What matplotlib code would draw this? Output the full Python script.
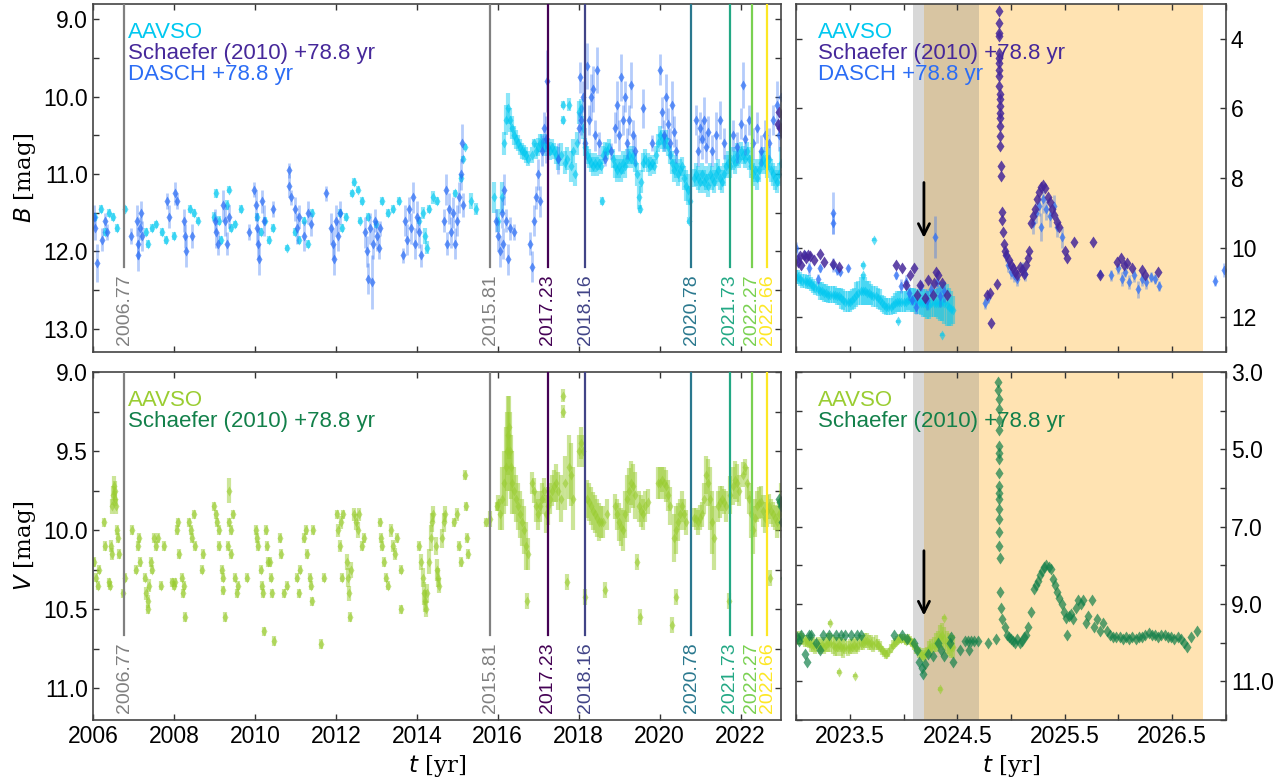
import numpy as np
import matplotlib
matplotlib.use("Agg")
import matplotlib.pyplot as plt
import matplotlib.transforms as mtransforms
from matplotlib.ticker import MultipleLocator, FormatStrFormatter, FixedLocator

plt.rcParams['font.family'] = ['Liberation Sans', 'DejaVu Sans']
plt.rcParams['mathtext.fontset'] = 'dejavusans'

# ---- B band: AAVSO (t, mag, spread) ----
aavso_b = [
    (2006.05, 11.55, .05), (2006.2, 11.45, .05), (2006.3, 11.75, .05), (2006.4, 11.5, .05), (2006.5, 11.55, .05),
    (2006.6, 11.7, .05), (2006.78, 11.45, .04), (2007.3, 11.75, .05), (2007.35, 11.9, .05), (2007.45, 11.7, .05),
    (2007.55, 11.65, .05), (2007.7, 11.75, .05), (2007.8, 11.85, .05), (2008.0, 11.8, .05), (2008.4, 11.45, .05),
    (2008.5, 11.5, .05), (2008.6, 11.6, .05), (2009.0, 11.55, .06), (2009.05, 11.25, .06), (2009.1, 11.6, .06),
    (2009.15, 11.85, .05), (2009.3, 11.4, .06), (2009.35, 11.2, .05), (2009.4, 11.7, .05), (2009.5, 11.65, .05),
    (2009.65, 11.45, .05), (2010.05, 11.55, .05), (2010.15, 11.75, .05), (2010.25, 11.6, .05), (2010.35, 11.85, .05),
    (2010.45, 11.7, .05), (2010.8, 11.95, .04), (2011.0, 11.75, .05), (2011.1, 11.85, .05), (2011.2, 11.6, .05),
    (2011.3, 11.9, .05), (2011.4, 11.5, .05), (2012.1, 11.5, .05), (2012.15, 11.7, .05), (2012.25, 11.55, .05),
    (2012.4, 11.25, .05), (2012.45, 11.1, .05), (2012.55, 11.2, .05), (2012.6, 11.6, .05), (2012.65, 11.35, .05),
    (2012.8, 11.55, .05), (2013.0, 11.65, .05), (2013.15, 11.35, .05), (2013.3, 11.5, .05), (2013.4, 11.45, .05),
    (2013.55, 11.35, .05), (2014.05, 11.6, .05), (2014.15, 11.5, .08), (2014.2, 11.8, .1), (2014.25, 11.95, .08),
    (2014.3, 11.45, .05), (2014.4, 11.3, .08), (2014.5, 11.35, .05), (2014.95, 11.25, .05), (2015.1, 11.05, .05),
    (2015.15, 10.8, .04), (2015.2, 10.65, .04), (2015.35, 11.35, .1), (2015.45, 11.45, .08), (2015.9, 11.3, .2),
    (2016.0, 11.6, .15), (2016.1, 11.3, .2), (2016.15, 10.6, .15), (2016.2, 10.3, .2), (2016.25, 10.15, .2),
    (2016.3, 10.3, .15), (2016.35, 10.4, .15), (2016.4, 10.5, .12), (2016.45, 10.55, .12), (2016.5, 10.6, .1),
    (2016.55, 10.65, .1), (2016.6, 10.7, .1), (2016.65, 10.72, .1), (2016.7, 10.75, .1), (2016.75, 10.8, .1),
    (2016.85, 10.75, .1), (2016.9, 10.6, .05), (2016.95, 10.7, .1), (2017.0, 10.65, .12), (2017.05, 10.6, .12),
    (2017.1, 10.6, .12), (2017.15, 10.65, .12), (2017.2, 10.6, .12), (2017.25, 10.65, .12), (2017.3, 10.7, .12),
    (2017.35, 10.65, .1), (2017.4, 10.7, .1), (2017.45, 10.75, .12), (2017.5, 10.8, .15), (2017.55, 10.75, .15),
    (2017.6, 10.1, .05), (2017.62, 10.3, .05), (2017.65, 10.85, .15), (2017.7, 10.8, .15), (2017.75, 10.1, .08),
    (2017.8, 10.9, .2), (2017.85, 10.7, .15), (2017.9, 11.0, .15), (2017.95, 10.6, .15), (2018.0, 10.2, .15),
    (2018.05, 10.15, .12), (2018.1, 10.4, .15), (2018.15, 10.65, .12), (2018.2, 10.75, .12), (2018.25, 10.8, .12),
    (2018.3, 10.85, .12), (2018.35, 10.9, .12), (2018.4, 10.85, .12), (2018.45, 10.9, .12), (2018.5, 10.85, .1),
    (2018.55, 10.9, .1), (2018.57, 11.35, .05), (2018.6, 10.75, .12), (2018.65, 10.7, .12), (2018.7, 10.7, .1),
    (2018.75, 10.65, .1), (2018.85, 10.8, .12), (2018.9, 10.9, .15), (2018.95, 10.95, .15), (2019.0, 10.9, .15),
    (2019.05, 10.95, .15), (2019.1, 10.85, .15), (2019.15, 10.9, .15), (2019.2, 10.8, .12), (2019.25, 10.75, .12),
    (2019.3, 10.8, .12), (2019.35, 10.75, .12), (2019.4, 10.85, .12), (2019.45, 11.0, .15), (2019.5, 11.3, .15),
    (2019.52, 11.45, .05), (2019.55, 11.1, .15), (2019.6, 10.85, .12), (2019.65, 10.8, .12), (2019.7, 10.85, .12),
    (2019.75, 10.9, .12), (2019.8, 10.85, .1), (2019.85, 10.9, .1), (2019.9, 10.75, .12), (2019.95, 10.6, .12),
    (2020.0, 10.5, .12), (2020.05, 10.55, .12), (2020.1, 10.6, .12), (2020.15, 10.55, .12), (2020.2, 10.65, .12),
    (2020.25, 10.75, .12), (2020.3, 10.85, .15), (2020.35, 10.95, .15), (2020.4, 10.9, .15), (2020.45, 11.0, .15),
    (2020.5, 10.95, .15), (2020.55, 10.9, .12), (2020.6, 11.05, .15), (2020.65, 11.15, .2), (2020.7, 11.2, .2),
    (2020.72, 11.6, .05), (2020.75, 11.35, .2), (2020.85, 11.05, .12), (2020.9, 11.0, .15), (2020.95, 11.05, .15),
    (2021.0, 11.1, .15), (2021.05, 11.0, .15), (2021.1, 11.1, .15), (2021.15, 11.05, .15), (2021.2, 11.15, .15),
    (2021.25, 11.0, .15), (2021.3, 11.05, .15), (2021.35, 11.1, .15), (2021.4, 11.0, .15), (2021.45, 10.95, .15),
    (2021.5, 11.05, .15), (2021.55, 11.1, .15), (2021.6, 11.0, .15), (2021.65, 10.9, .15), (2021.7, 10.85, .15),
    (2021.75, 10.9, .15), (2021.8, 10.8, .15), (2021.85, 10.85, .15), (2021.9, 10.75, .15), (2021.95, 10.8, .12),
    (2022.0, 10.7, .12), (2022.05, 10.75, .12), (2022.1, 10.8, .12), (2022.15, 10.7, .12), (2022.2, 10.8, .15),
    (2022.25, 10.9, .15), (2022.3, 11.0, .15), (2022.35, 10.95, .15), (2022.4, 11.05, .15), (2022.45, 10.95, .15),
    (2022.5, 10.85, .15), (2022.55, 10.8, .15), (2022.6, 10.85, .15), (2022.65, 10.9, .15), (2022.7, 10.8, .15),
    (2022.75, 10.95, .15), (2022.8, 11.0, .15), (2022.85, 11.05, .15), (2022.9, 11.1, .15), (2022.95, 11.0, .15),
    (2023.0, 10.85, .2), (2023.02, 10.85, .2), (2023.04, 10.9, .2), (2023.06, 10.95, .2), (2023.08, 10.95, .2),
    (2023.1, 11.0, .2), (2023.12, 11.0, .2), (2023.14, 11.05, .2), (2023.16, 11.1, .2), (2023.18, 11.15, .2),
    (2023.2, 11.2, .2), (2023.22, 11.25, .25), (2023.24, 11.25, .25), (2023.26, 11.3, .25), (2023.28, 11.3, .25),
    (2023.3, 11.35, .25), (2023.32, 11.35, .25), (2023.34, 11.35, .25), (2023.36, 11.35, .25), (2023.38, 11.4, .25),
    (2023.4, 11.4, .25), (2023.42, 11.45, .3), (2023.44, 11.5, .3), (2023.46, 11.55, .3), (2023.48, 11.55, .3),
    (2023.5, 11.55, .3), (2023.52, 11.5, .3), (2023.54, 11.45, .3), (2023.56, 11.35, .35), (2023.58, 11.3, .35),
    (2023.6, 11.25, .4), (2023.62, 11.25, .4), (2023.64, 11.25, .4), (2023.66, 11.3, .35), (2023.68, 11.3, .35),
    (2023.7, 11.35, .3), (2023.72, 11.4, .3), (2023.74, 11.4, .3), (2023.76, 11.45, .3), (2023.78, 11.5, .3),
    (2023.8, 11.6, .25), (2023.82, 11.65, .25), (2023.84, 11.7, .25), (2023.86, 11.7, .25), (2023.88, 11.7, .25),
    (2023.9, 11.65, .25), (2023.92, 11.6, .3), (2023.94, 11.55, .3), (2023.96, 11.55, .3), (2023.98, 11.55, .3),
    (2024.0, 11.55, .3), (2024.02, 11.55, .3), (2024.04, 11.5, .3), (2024.06, 11.5, .35), (2024.08, 11.5, .35),
    (2024.1, 11.5, .35), (2024.12, 11.55, .35), (2024.14, 11.55, .35), (2024.16, 11.6, .35), (2024.18, 11.6, .4),
    (2024.2, 11.6, .4), (2024.22, 11.65, .4), (2024.24, 11.65, .4), (2024.26, 11.6, .4), (2024.28, 11.6, .4),
    (2024.3, 11.6, .4), (2024.32, 11.6, .45), (2024.34, 11.6, .5), (2024.36, 11.55, .55), (2024.38, 11.6, .6),
    (2024.4, 11.65, .6), (2024.42, 11.7, .55), (2024.44, 11.75, .5), (2024.46, 11.8, .4),
    (2023.62, 10.5, .05), (2023.62, 10.8, .05), (2023.73, 9.77, .05), (2023.95, 12.12, .05), (2024.36, 12.5, .05),
]

# ---- B band: DASCH +78.8 yr ----
dasch_b = [
    (2006.02, 11.55, .15), (2006.05, 11.7, .15), (2006.1, 12.15, .25), (2006.23, 11.85, .15), (2006.3, 11.6, .1),
    (2006.35, 11.75, .1), (2006.93, 11.8, .1), (2007.08, 11.6, .2), (2007.1, 11.9, .2), (2007.12, 12.05, .2),
    (2007.15, 11.7, .15), (2007.18, 11.5, .15), (2007.2, 11.8, .2), (2007.82, 11.35, .1), (2007.87, 11.55, .15),
    (2008.03, 11.25, .15), (2008.07, 11.35, .1), (2008.25, 11.6, .15), (2008.28, 11.8, .15), (2008.3, 12.0, .2),
    (2008.45, 11.8, .15), (2009.02, 11.6, .15), (2009.05, 11.75, .2), (2009.08, 11.9, .15), (2009.22, 11.4, .2),
    (2009.27, 11.6, .2), (2009.3, 11.9, .15), (2009.35, 11.55, .15), (2009.85, 11.75, .1), (2009.98, 11.2, .1),
    (2010.02, 11.4, .2), (2010.05, 11.7, .2), (2010.08, 11.9, .2), (2010.1, 12.1, .2), (2010.18, 11.35, .15),
    (2010.22, 11.6, .2), (2010.45, 11.45, .1), (2010.83, 10.95, .1), (2010.85, 11.15, .15), (2010.88, 11.3, .1),
    (2011.0, 11.45, .15), (2011.05, 11.7, .2), (2011.1, 11.55, .15), (2011.2, 11.8, .2), (2011.3, 11.5, .15),
    (2011.38, 11.65, .15), (2011.75, 11.25, .1), (2011.88, 11.7, .2), (2011.92, 11.9, .2), (2011.96, 12.1, .2),
    (2012.0, 11.6, .2), (2012.05, 11.8, .2), (2012.1, 11.5, .15), (2012.72, 11.75, .2), (2012.76, 12.0, .2),
    (2012.8, 12.35, .2), (2012.85, 11.7, .2), (2012.9, 12.4, .35), (2012.92, 11.9, .2), (2012.96, 11.6, .15),
    (2013.02, 11.8, .2), (2013.06, 11.95, .15), (2013.1, 11.7, .1), (2013.65, 12.05, .1), (2013.7, 11.6, .2),
    (2013.75, 11.85, .2), (2013.8, 11.45, .15), (2013.85, 11.7, .2), (2013.9, 11.3, .2), (2013.95, 11.9, .2),
    (2014.0, 11.55, .2), (2014.05, 11.75, .2), (2014.1, 12.05, .15), (2014.68, 11.6, .15), (2014.72, 11.2, .2),
    (2014.75, 11.9, .15), (2014.8, 11.45, .2), (2014.85, 11.75, .2), (2014.9, 11.5, .2), (2014.95, 11.9, .2),
    (2015.0, 11.6, .2), (2015.05, 11.3, .2), (2015.08, 11.0, .2), (2015.12, 10.6, .25), (2015.15, 11.4, .15),
    (2015.95, 11.6, .15), (2016.0, 11.8, .2), (2016.05, 12.0, .2), (2016.1, 11.5, .2), (2016.12, 11.9, .2),
    (2016.15, 11.2, .2), (2016.2, 11.6, .15), (2016.25, 12.1, .2), (2016.3, 11.7, .15), (2016.4, 11.75, .1),
    (2016.8, 11.9, .15), (2016.85, 12.2, .2), (2016.9, 11.6, .2), (2016.95, 11.3, .15), (2017.0, 11.0, .2),
    (2017.05, 11.35, .2), (2017.1, 10.7, .2), (2017.15, 10.4, .2), (2017.2, 10.55, .3), (2017.22, 9.8, .4),
    (2017.5, 10.8, .2), (2018.0, 10.4, .2), (2018.02, 9.75, .2), (2018.05, 10.3, .2), (2018.1, 10.0, .2),
    (2018.15, 10.6, .2), (2018.2, 9.6, .3), (2018.25, 10.3, .2), (2018.3, 10.0, .3), (2018.35, 9.9, .3),
    (2018.4, 10.5, .2), (2018.45, 9.65, .3), (2018.5, 10.6, .15), (2018.65, 10.8, .1), (2018.8, 10.7, .1),
    (2018.9, 10.4, .2), (2018.95, 10.1, .3), (2019.0, 10.5, .2), (2019.05, 9.75, .3), (2019.1, 10.3, .2),
    (2019.15, 10.0, .2), (2019.2, 10.6, .2), (2019.25, 10.3, .2), (2019.3, 9.85, .3), (2019.35, 10.5, .2),
    (2019.4, 10.7, .2), (2019.6, 10.15, .25), (2019.8, 10.6, .1), (2020.0, 9.65, .2), (2020.05, 10.2, .2),
    (2020.1, 10.5, .2), (2020.15, 10.0, .3), (2020.2, 10.35, .2), (2020.25, 10.6, .2), (2020.3, 10.1, .3),
    (2020.35, 10.45, .2), (2020.4, 10.7, .15), (2020.9, 10.3, .2), (2020.95, 10.7, .2), (2021.0, 10.4, .2),
    (2021.05, 10.55, .25), (2021.1, 10.3, .3), (2021.15, 10.65, .2), (2021.2, 10.45, .2), (2021.3, 10.7, .2),
    (2021.4, 10.5, .3), (2021.5, 10.3, .25), (2021.6, 10.6, .2), (2021.8, 10.5, .2), (2021.9, 10.65, .2),
    (2022.0, 10.35, .2), (2022.05, 9.85, .3), (2022.1, 10.55, .2), (2022.2, 10.3, .2), (2022.3, 10.6, .2),
    (2022.4, 10.4, .2), (2022.5, 10.7, .2), (2022.6, 10.5, .2), (2022.7, 10.6, .2), (2022.8, 10.3, .2),
    (2022.9, 10.1, .3), (2022.95, 10.5, .2),
    (2023.0, 10.0, .15), (2023.02, 10.3, .2), (2023.08, 10.2, .1), (2023.12, 10.6, .2), (2023.2, 10.9, .15),
    (2023.22, 10.6, .1), (2023.34, 9.0, .6), (2023.34, 9.3, .3), (2023.34, 10.5, .2), (2023.38, 10.65, .15),
    (2023.41, 10.7, .1), (2023.48, 10.6, .1), (2023.93, 10.8, .1), (2023.98, 11.1, .2), (2024.02, 11.0, .2),
    (2024.05, 11.3, .2), (2024.08, 11.5, .15), (2024.12, 11.7, .2), (2024.16, 11.1, .15), (2024.22, 11.5, .3),
    (2024.26, 11.2, .2), (2024.29, 9.7, .6), (2024.31, 11.0, .3), (2024.34, 11.4, .3), (2024.38, 11.25, .3),
    (2024.76, 11.6, .15), (2024.79, 11.45, .15), (2024.95, 10.2, .2), (2024.97, 10.5, .2), (2025.0, 10.7, .2),
    (2025.03, 10.8, .2), (2025.06, 10.9, .2), (2025.1, 10.6, .2), (2025.13, 10.75, .2), (2025.2, 9.3, .3),
    (2025.23, 9.0, .3), (2025.26, 8.8, .3), (2025.28, 9.4, .4), (2025.3, 8.6, .4), (2025.33, 8.9, .3),
    (2025.36, 9.1, .3), (2025.4, 8.8, .3), (2025.43, 9.4, .3), (2025.47, 9.7, .3), (2025.83, 10.75, .1),
    (2025.93, 10.8, .15), (2026.0, 10.6, .15), (2026.03, 10.9, .2), (2026.06, 10.7, .15), (2026.1, 11.0, .2),
    (2026.14, 10.8, .2), (2026.18, 11.2, .25), (2026.22, 10.9, .2), (2026.26, 11.0, .2), (2026.3, 10.85, .15),
    (2026.34, 10.9, .15), (2026.38, 11.1, .15), (2026.9, 10.95, .15), (2026.98, 10.65, .2),
]

# ---- B band: Schaefer (2010) +78.8 yr ----
schaefer_b = [
    (2022.92, 10.35), (2022.95, 10.2), (2022.98, 10.4),
    (2023.02, 10.4), (2023.04, 10.25), (2023.05, 10.5), (2023.07, 10.2), (2023.09, 10.3), (2023.11, 10.2),
    (2023.13, 10.25), (2023.17, 10.35), (2023.22, 10.17), (2023.26, 10.41), (2023.34, 10.46), (2023.4, 10.55),
    (2023.93, 10.5), (2023.99, 10.6), (2024.02, 11.08), (2024.06, 10.79), (2024.1, 10.58), (2024.13, 11.36),
    (2024.15, 11.08), (2024.2, 11.46), (2024.23, 10.93), (2024.27, 11.36), (2024.28, 11.03), (2024.3, 10.7),
    (2024.32, 10.79), (2024.36, 11.03), (2024.4, 11.36), (2024.78, 11.36), (2024.8, 11.3), (2024.81, 12.17),
    (2024.87, 11.05), (2024.885, 3.2), (2024.885, 3.55), (2024.886, 3.84), (2024.887, 3.93), (2024.888, 4.41),
    (2024.889, 4.55), (2024.89, 4.7), (2024.89, 4.9), (2024.891, 5.08), (2024.892, 5.36), (2024.893, 5.6),
    (2024.894, 5.74), (2024.895, 5.93), (2024.896, 6.12), (2024.897, 6.27), (2024.898, 6.5), (2024.9, 6.79),
    (2024.9, 7.08), (2024.905, 7.65), (2024.91, 7.95), (2024.915, 8.98), (2024.92, 9.2), (2024.925, 9.55),
    (2024.935, 9.9), (2024.945, 10.1), (2024.95, 10.2), (2024.98, 10.35), (2025.0, 10.5), (2025.02, 10.6),
    (2025.04, 10.7), (2025.06, 10.8), (2025.08, 10.55), (2025.1, 10.65), (2025.12, 10.75), (2025.14, 10.5),
    (2025.16, 10.3), (2025.17, 10.1), (2025.19, 9.3), (2025.2, 9.1), (2025.22, 8.9), (2025.24, 8.6),
    (2025.26, 8.4), (2025.28, 8.25), (2025.3, 8.2), (2025.32, 8.3), (2025.34, 8.55), (2025.36, 8.7),
    (2025.38, 8.9), (2025.4, 9.05), (2025.43, 9.25), (2025.45, 9.4), (2025.5, 10.1), (2025.52, 10.3),
    (2025.59, 9.85), (2025.76, 9.85), (2025.83, 10.8), (2025.99, 10.4), (2026.02, 10.3), (2026.05, 10.5),
    (2026.08, 10.45), (2026.13, 10.6), (2026.22, 10.65), (2026.25, 10.8), (2026.37, 10.7),
]

# ---- V band: AAVSO (t, mag, spread) ----
aavso_v = [
    (2006.03, 10.2, .03), (2006.08, 10.3, .03), (2006.12, 10.35, .03), (2006.15, 10.25, .03), (2006.28, 9.95, .03),
    (2006.3, 10.1, .03), (2006.4, 10.33, .03), (2006.43, 10.35, .03), (2006.45, 10.1, .04), (2006.47, 10.15, .04),
    (2006.48, 9.85, .05), (2006.5, 9.78, .06), (2006.52, 9.72, .06), (2006.54, 9.75, .06), (2006.55, 9.8, .05),
    (2006.57, 9.85, .05), (2006.6, 10.0, .03), (2006.62, 10.05, .03), (2006.64, 10.15, .03), (2006.73, 10.4, .03),
    (2006.8, 10.3, .03), (2006.97, 10.0, .03), (2007.07, 10.25, .03), (2007.1, 10.1, .03), (2007.13, 10.05, .03),
    (2007.17, 10.2, .03), (2007.28, 10.3, .03), (2007.32, 10.4, .04), (2007.35, 10.45, .04), (2007.37, 10.5, .03),
    (2007.38, 10.35, .04), (2007.42, 10.2, .03), (2007.45, 10.25, .03), (2007.5, 10.05, .03), (2007.55, 10.1, .03),
    (2007.6, 10.05, .03), (2007.68, 10.35, .03), (2007.75, 10.1, .03), (2007.95, 10.33, .03), (2008.0, 10.35, .03),
    (2008.03, 10.33, .03), (2008.08, 10.0, .03), (2008.1, 9.95, .03), (2008.12, 10.15, .03), (2008.2, 10.3, .03),
    (2008.23, 10.4, .03), (2008.25, 10.35, .03), (2008.27, 10.55, .03), (2008.38, 9.95, .03), (2008.42, 10.0, .03),
    (2008.45, 10.05, .03), (2008.5, 9.9, .03), (2008.52, 10.1, .03), (2008.68, 10.25, .03), (2008.72, 10.15, .03),
    (2009.0, 9.85, .03), (2009.03, 9.9, .03), (2009.06, 9.95, .03), (2009.1, 10.0, .03), (2009.12, 10.1, .03),
    (2009.18, 10.25, .03), (2009.2, 10.3, .03), (2009.22, 10.38, .03), (2009.25, 10.55, .03), (2009.33, 10.1, .03),
    (2009.35, 9.95, .03), (2009.37, 9.75, .08), (2009.4, 10.0, .03), (2009.42, 10.15, .03), (2009.45, 9.9, .03),
    (2009.5, 10.3, .03), (2009.55, 10.4, .03), (2009.58, 10.35, .03), (2009.8, 10.3, .03), (2010.02, 10.0, .03),
    (2010.05, 10.05, .03), (2010.08, 10.1, .03), (2010.15, 10.25, .03), (2010.18, 10.35, .03), (2010.2, 10.4, .03),
    (2010.22, 10.64, .03), (2010.27, 10.0, .03), (2010.3, 10.1, .03), (2010.32, 10.2, .03), (2010.37, 10.2, .03),
    (2010.4, 10.3, .03), (2010.42, 10.4, .03), (2010.47, 10.7, .03), (2010.62, 10.05, .03), (2010.65, 10.15, .03),
    (2010.72, 10.4, .03), (2010.78, 10.35, .03), (2011.05, 10.3, .03), (2011.08, 10.4, .03), (2011.12, 10.25, .03),
    (2011.2, 10.05, .03), (2011.25, 10.0, .03), (2011.28, 10.15, .03), (2011.35, 10.3, .03), (2011.38, 10.35, .03),
    (2011.4, 10.45, .03), (2011.43, 10.0, .03), (2011.62, 10.72, .03), (2011.7, 10.3, .03), (2012.02, 9.9, .03),
    (2012.05, 10.0, .04), (2012.1, 10.1, .04), (2012.12, 9.95, .04), (2012.15, 10.3, .03), (2012.18, 9.9, .03),
    (2012.28, 10.2, .05), (2012.3, 10.3, .06), (2012.33, 10.4, .05), (2012.35, 10.55, .03), (2012.38, 10.25, .05),
    (2012.45, 9.9, .04), (2012.5, 9.95, .05), (2012.55, 10.0, .05), (2012.58, 9.9, .04), (2012.65, 10.1, .03),
    (2012.7, 10.05, .03), (2013.08, 9.95, .03), (2013.12, 10.05, .03), (2013.15, 10.1, .03), (2013.2, 10.2, .03),
    (2013.25, 10.3, .03), (2013.28, 10.35, .03), (2013.35, 10.0, .04), (2013.4, 10.1, .04), (2013.45, 10.15, .04),
    (2013.5, 10.05, .03), (2013.6, 10.5, .03), (2013.62, 10.25, .03), (2014.05, 10.1, .03), (2014.1, 10.2, .05),
    (2014.15, 10.3, .06), (2014.18, 10.4, .07), (2014.2, 10.45, .07), (2014.23, 10.5, .05), (2014.26, 10.4, .06),
    (2014.3, 10.2, .08), (2014.35, 10.05, .08), (2014.38, 9.95, .06), (2014.4, 9.9, .05), (2014.47, 10.1, .06),
    (2014.5, 10.25, .07), (2014.53, 10.3, .06), (2014.55, 10.35, .05), (2014.62, 10.05, .06), (2014.66, 9.95, .06),
    (2014.7, 9.9, .05), (2014.92, 9.95, .03), (2015.0, 9.9, .04), (2015.05, 10.1, .03), (2015.1, 10.2, .03),
    (2015.2, 9.65, .03), (2015.22, 9.85, .03), (2015.25, 10.05, .03), (2015.27, 10.15, .03), (2015.72, 9.95, .03),
    (2015.8, 9.93, .05), (2015.98, 9.85, .03), (2016.0, 9.83, .05), (2016.1, 9.8, .2), (2016.2, 9.6, .25),
    (2016.25, 9.4, .25), (2016.3, 9.5, .25), (2016.35, 9.7, .2), (2016.4, 9.75, .15), (2016.5, 9.85, .15),
    (2016.6, 9.95, .15), (2016.7, 10.1, .15), (2016.72, 10.45, .05), (2016.75, 10.15, .1), (2016.85, 9.7, .07),
    (2016.95, 9.85, .1), (2017.05, 9.85, .1), (2017.15, 9.75, .08), (2017.25, 9.85, .12), (2017.35, 9.75, .1),
    (2017.45, 9.7, .12), (2017.55, 9.8, .15), (2017.6, 9.15, .04), (2017.62, 9.25, .04), (2017.65, 9.7, .17),
    (2017.7, 10.33, .05), (2017.75, 9.6, .2), (2017.85, 9.8, .2), (2018.05, 9.45, .1), (2018.1, 9.5, .1),
    (2018.15, 10.42, .05), (2018.2, 9.8, .12), (2018.3, 9.85, .12), (2018.4, 9.9, .12), (2018.5, 9.95, .12),
    (2018.6, 9.95, .1), (2018.65, 10.38, .05), (2018.7, 9.9, .1), (2018.9, 9.85, .08), (2019.0, 9.95, .12),
    (2019.1, 10.0, .13), (2019.2, 9.8, .15), (2019.3, 9.7, .14), (2019.4, 9.78, .15), (2019.45, 10.2, .05),
    (2019.5, 9.85, .1), (2019.52, 10.55, .05), (2019.6, 9.9, .1), (2019.7, 9.82, .08), (2019.95, 9.7, .1),
    (2020.05, 9.68, .08), (2020.15, 9.72, .1), (2020.25, 9.85, .12), (2020.3, 10.6, .05), (2020.35, 10.05, .15),
    (2020.4, 10.42, .05), (2020.45, 9.95, .12), (2020.55, 9.85, .1), (2020.65, 9.95, .08), (2020.85, 9.92, .06),
    (2020.95, 9.95, .08), (2021.05, 9.9, .08), (2021.15, 9.65, .12), (2021.25, 9.8, .2), (2021.35, 10.05, .2),
    (2021.45, 9.85, .1), (2021.55, 9.8, .08), (2021.65, 9.85, .1), (2021.72, 10.45, .05), (2021.75, 9.78, .12),
    (2021.85, 9.68, .12), (2021.95, 9.75, .1), (2022.1, 9.6, .05), (2022.2, 9.8, .1), (2022.3, 10.0, .15),
    (2022.4, 9.85, .1), (2022.5, 9.82, .1), (2022.6, 9.92, .1), (2022.7, 9.85, .08), (2022.72, 10.3, .05),
    (2022.8, 9.9, .08), (2022.9, 9.95, .1),
    (2016.05, 9.9, .1), (2016.15, 9.7, .2), (2016.22, 9.5, .25), (2016.28, 9.35, .2), (2016.32, 9.6, .2),
    (2016.45, 9.8, .15), (2016.55, 9.9, .15), (2016.65, 10.0, .15), (2016.9, 9.75, .08), (2017.0, 9.9, .1),
    (2017.1, 9.8, .1), (2017.2, 9.9, .12), (2017.3, 9.8, .1), (2017.4, 9.72, .1), (2017.5, 9.75, .12),
    (2017.8, 9.65, .2), (2018.0, 9.5, .1), (2018.25, 9.82, .12), (2018.35, 9.88, .12), (2018.45, 9.92, .12),
    (2018.55, 9.95, .1), (2018.95, 9.9, .1), (2019.05, 9.98, .12), (2019.15, 9.9, .15), (2019.25, 9.75, .14),
    (2019.35, 9.72, .14), (2019.55, 9.88, .1), (2019.65, 9.85, .1), (2020.0, 9.7, .1), (2020.1, 9.7, .1),
    (2020.2, 9.78, .1), (2020.4, 10.0, .15), (2020.5, 9.9, .1), (2020.6, 9.9, .1), (2020.9, 9.93, .07),
    (2021.0, 9.92, .08), (2021.1, 9.8, .1), (2021.2, 9.7, .15), (2021.3, 9.95, .2), (2021.5, 9.82, .1),
    (2021.6, 9.82, .08), (2021.8, 9.72, .12), (2021.9, 9.7, .12), (2022.05, 9.65, .08), (2022.15, 9.7, .1),
    (2022.25, 9.9, .15), (2022.35, 9.92, .12), (2022.45, 9.83, .1), (2022.55, 9.88, .1), (2022.65, 9.88, .1),
    (2022.75, 9.88, .08), (2022.85, 9.92, .08), (2022.95, 9.9, .1),
    (2023.0, 9.85, .15), (2023.02, 9.9, .15), (2023.04, 9.85, .15), (2023.06, 9.9, .15), (2023.08, 9.95, .15),
    (2023.1, 9.95, .15), (2023.12, 10.0, .15), (2023.14, 10.05, .2), (2023.16, 10.05, .2), (2023.18, 10.1, .2),
    (2023.2, 10.05, .2), (2023.22, 10.1, .2), (2023.24, 10.05, .2), (2023.26, 10.1, .2), (2023.28, 10.05, .2),
    (2023.3, 10.0, .25), (2023.32, 10.0, .25), (2023.34, 10.05, .25), (2023.36, 10.1, .25), (2023.38, 10.1, .25),
    (2023.4, 10.05, .2), (2023.42, 10.1, .25), (2023.44, 10.15, .25), (2023.46, 10.1, .2), (2023.48, 10.15, .2),
    (2023.5, 10.1, .2), (2023.52, 10.1, .2), (2023.54, 10.05, .2), (2023.56, 10.1, .2), (2023.58, 10.05, .2),
    (2023.6, 10.0, .2), (2023.62, 10.0, .2), (2023.64, 9.95, .2), (2023.66, 9.95, .2), (2023.68, 10.0, .2),
    (2023.7, 10.0, .2), (2023.72, 10.05, .2), (2023.74, 10.0, .2), (2023.76, 10.05, .15), (2023.78, 10.1, .15),
    (2023.8, 10.2, .12), (2023.82, 10.25, .12), (2023.84, 10.3, .12), (2023.86, 10.25, .12), (2023.88, 10.15, .12),
    (2023.9, 10.05, .12), (2023.92, 10.0, .12), (2023.94, 9.95, .12), (2023.96, 9.9, .12), (2023.98, 9.9, .12),
    (2024.0, 9.9, .12), (2024.02, 9.95, .12), (2024.04, 9.9, .12), (2024.06, 9.95, .12), (2024.08, 10.0, .12),
    (2024.1, 10.05, .15), (2024.12, 10.15, .15), (2024.14, 10.25, .15), (2024.16, 10.3, .15), (2024.18, 10.35, .15),
    (2024.2, 10.3, .15), (2024.22, 10.25, .15), (2024.24, 10.15, .2), (2024.26, 10.1, .2), (2024.28, 10.05, .2),
    (2024.3, 10.0, .25), (2024.32, 9.95, .25), (2024.34, 9.85, .3), (2024.36, 9.8, .3), (2024.38, 9.9, .3),
    (2024.4, 10.0, .3), (2024.42, 10.05, .3), (2024.44, 10.1, .3), (2024.46, 10.1, .3),
    (2023.32, 9.5, .05), (2024.34, 11.2, .05), (2024.38, 9.35, .05), (2023.4, 10.75, .05), (2023.55, 10.85, .05),
]

# ---- V band: Schaefer (2010) +78.8 yr ----
schaefer_v = [
    (2022.94, 9.8), (2022.97, 9.82),
    (2023.01, 9.85), (2023.03, 9.95), (2023.05, 9.8), (2023.08, 10.3), (2023.1, 10.5), (2023.12, 9.8),
    (2023.14, 9.8), (2023.19, 10.0), (2023.22, 10.2), (2023.25, 9.8), (2023.31, 9.8), (2023.37, 9.8),
    (2023.42, 9.8), (2023.46, 9.8), (2023.51, 9.8), (2023.57, 9.8), (2023.6, 9.8), (2023.91, 9.8),
    (2023.99, 9.8), (2024.03, 9.9), (2024.1, 10.0), (2024.13, 10.2), (2024.14, 10.5), (2024.17, 10.65),
    (2024.18, 10.8), (2024.2, 10.55), (2024.23, 10.3), (2024.27, 10.35), (2024.32, 10.0), (2024.35, 10.2),
    (2024.38, 10.35), (2024.43, 10.0), (2024.44, 9.85), (2024.46, 10.5), (2024.53, 10.2), (2024.57, 9.95),
    (2024.6, 9.95), (2024.61, 10.2), (2024.63, 9.95), (2024.66, 9.95), (2024.69, 9.95), (2024.79, 10.0),
    (2024.86, 9.9), (2024.883, 3.25), (2024.883, 3.46), (2024.884, 3.71), (2024.884, 3.97), (2024.885, 4.23),
    (2024.885, 4.49), (2024.886, 4.92), (2024.886, 5.09), (2024.887, 5.26), (2024.887, 5.61), (2024.888, 5.95),
    (2024.888, 6.12), (2024.889, 6.29), (2024.889, 6.55), (2024.89, 6.81), (2024.89, 7.15), (2024.891, 7.5),
    (2024.895, 7.8), (2024.9, 8.7), (2024.91, 9.1), (2024.92, 9.4), (2024.94, 9.6), (2024.96, 9.8),
    (2024.98, 9.85), (2025.0, 9.9), (2025.02, 9.95), (2025.04, 10.0), (2025.06, 9.9), (2025.08, 10.0),
    (2025.1, 9.95), (2025.12, 9.85), (2025.14, 9.8), (2025.16, 9.6), (2025.19, 9.2), (2025.21, 8.6),
    (2025.23, 8.5), (2025.25, 8.4), (2025.27, 8.25), (2025.29, 8.15), (2025.31, 8.05), (2025.33, 8.0),
    (2025.35, 8.05), (2025.37, 8.1), (2025.39, 8.35), (2025.41, 8.5), (2025.43, 8.7), (2025.45, 8.85),
    (2025.47, 9.0), (2025.49, 9.2), (2025.51, 9.35), (2025.52, 9.8), (2025.54, 9.3), (2025.56, 9.25),
    (2025.58, 9.4), (2025.6, 9.1), (2025.62, 8.9), (2025.65, 9.0), (2025.67, 8.9), (2025.7, 9.5),
    (2025.72, 9.3), (2025.75, 8.9), (2025.77, 9.6), (2025.8, 9.4), (2025.83, 9.7), (2025.86, 9.5),
    (2025.89, 9.7), (2025.92, 9.8), (2025.95, 9.85), (2025.98, 9.85), (2026.01, 9.85), (2026.04, 9.9),
    (2026.07, 9.85), (2026.1, 9.9), (2026.13, 9.85), (2026.16, 9.9), (2026.19, 9.85), (2026.22, 9.85),
    (2026.25, 9.8), (2026.28, 9.75), (2026.31, 9.8), (2026.34, 9.8), (2026.37, 9.85), (2026.4, 9.8),
    (2026.43, 9.8), (2026.46, 9.85), (2026.49, 9.85), (2026.52, 9.9), (2026.55, 9.85), (2026.58, 9.9),
    (2026.61, 10.0), (2026.64, 10.1), (2026.67, 9.85), (2026.73, 9.7),
]

# event epochs marked in the left panels
events = [2006.77, 2015.81, 2017.23, 2018.16, 2020.78, 2021.73, 2022.27, 2022.66]
event_colors = ['gray', 'gray'] + [plt.cm.viridis(v) for v in np.linspace(0, 1, 6)]

# shaded intervals and arrow (right panels)
gray_span = (2024.09, 2024.70)
orange_span = (2024.19, 2026.79)
arrow_t = 2024.19
arrow_b = (8.05, 9.8)
arrow_v = (7.55, 9.37)

c_aavso_b = '#00c8f0'
c_dasch = '#2b6df5'
c_sch_b = '#46289a'
c_aavso_v = '#9acd32'
c_sch_v = '#12804a'


def draw(ax, rows, color, a_mark, a_err, ms, elw=2.0):
    a = np.array(rows, dtype=float)
    if a.shape[1] == 3:
        ax.errorbar(a[:, 0], a[:, 1], yerr=a[:, 2], fmt='none', ecolor=color,
                    alpha=a_err, elinewidth=elw, capsize=0, zorder=2)
    ax.plot(a[:, 0], a[:, 1], 'd', color=color, ms=ms, mec='none', alpha=a_mark, zorder=2)


def style(ax):
    ax.tick_params(which='both', direction='in', top=True, right=True, labelsize=16.5,
                   color='#333333', width=1.0, length=4)
    for s in ax.spines.values():
        s.set_color('#444444')
        s.set_linewidth(1.2)


fig = plt.figure(figsize=(12.87, 7.8), dpi=100)
ax_bl = fig.add_axes([0.0723, 0.5487, 0.5346, 0.4462])
ax_br = fig.add_axes([0.6185, 0.5487, 0.3341, 0.4462])
ax_vl = fig.add_axes([0.0723, 0.0769, 0.5346, 0.4462])
ax_vr = fig.add_axes([0.6185, 0.0769, 0.3341, 0.4462])

for ax in (ax_bl, ax_br):
    draw(ax, aavso_b, c_aavso_b, 0.6, 0.45, 5, 3)
    draw(ax, dasch_b, c_dasch, 0.7, 0.35, 5, 2)
    draw(ax, schaefer_b, c_sch_b, 0.85, 0, 6)
for ax in (ax_vl, ax_vr):
    draw(ax, aavso_v, c_aavso_v, 0.6, 0.5, 5, 3)
    draw(ax, schaefer_v, c_sch_v, 0.7, 0, 6)

# left panels
for ax in (ax_bl, ax_vl):
    trans = mtransforms.blended_transform_factory(ax.transData, ax.transAxes)
    for t, c in zip(events, event_colors):
        ax.axvline(t, ymin=0.245, ymax=1, color=c, lw=1.6, zorder=3)
        ax.text(t, 0.02, f'{t:.2f}', rotation=90, transform=trans, ha='center', va='bottom',
                color=c, fontsize=14, zorder=3)
    ax.set_xlim(2006, 2023)
    ax.xaxis.set_major_locator(MultipleLocator(2))
    ax.xaxis.set_major_formatter(FormatStrFormatter('%d'))
    style(ax)

ax_bl.set_ylim(13.3, 8.8)
ax_bl.yaxis.set_major_locator(MultipleLocator(1))
ax_bl.yaxis.set_minor_locator(MultipleLocator(0.5))
ax_bl.yaxis.set_major_formatter(FormatStrFormatter('%.1f'))
ax_bl.tick_params(labelbottom=False)
ax_bl.set_ylabel(r'$B$ [mag]', family='DejaVu Serif', fontsize=16.5)

ax_vl.set_ylim(11.2, 9.0)
ax_vl.yaxis.set_major_locator(MultipleLocator(0.5))
ax_vl.yaxis.set_minor_locator(MultipleLocator(0.25))
ax_vl.yaxis.set_major_formatter(FormatStrFormatter('%.1f'))
ax_vl.set_ylabel(r'$V$ [mag]', family='DejaVu Serif', fontsize=16.5)
ax_vl.set_xlabel(r'$t$ [yr]', family='DejaVu Serif', fontsize=16.5)

# right panels
for ax in (ax_br, ax_vr):
    ax.axvspan(*orange_span, color='orange', alpha=0.3, lw=0, zorder=0)
    ax.axvspan(*gray_span, color='gray', alpha=0.3, lw=0, zorder=0)
    ax.set_xlim(2023, 2027)
    ax.xaxis.set_major_locator(FixedLocator([2023.5, 2024.5, 2025.5, 2026.5]))
    ax.xaxis.set_minor_locator(MultipleLocator(1))
    ax.xaxis.set_major_formatter(FormatStrFormatter('%.1f'))
    style(ax)
    ax.tick_params(labelleft=False, labelright=True)

ax_br.set_ylim(13, 3)
ax_br.yaxis.set_major_locator(MultipleLocator(2))
ax_br.tick_params(labelbottom=False)
ax_br.annotate('', xy=(arrow_t, arrow_b[1]), xytext=(arrow_t, arrow_b[0]),
               arrowprops=dict(arrowstyle='->,head_length=0.4,head_width=0.2', color='k',
                               lw=2, mutation_scale=20), zorder=4)

ax_vr.set_ylim(12, 3)
ax_vr.yaxis.set_major_locator(FixedLocator([3, 5, 7, 9, 11]))
ax_vr.yaxis.set_minor_locator(MultipleLocator(1))
ax_vr.yaxis.set_major_formatter(FormatStrFormatter('%.1f'))
ax_vr.set_xlabel(r'$t$ [yr]', family='DejaVu Serif', fontsize=16.5)
ax_vr.annotate('', xy=(arrow_t, arrow_v[1]), xytext=(arrow_t, arrow_v[0]),
               arrowprops=dict(arrowstyle='->,head_length=0.4,head_width=0.2', color='k',
                               lw=2, mutation_scale=20), zorder=4)

# colored legend text
b_labels = [('AAVSO', c_aavso_b), ('Schaefer (2010) +78.8 yr', c_sch_b), ('DASCH +78.8 yr', c_dasch)]
v_labels = [('AAVSO', c_aavso_v), ('Schaefer (2010) +78.8 yr', c_sch_v)]
for ax, labels in ((ax_bl, b_labels), (ax_br, b_labels), (ax_vl, v_labels), (ax_vr, v_labels)):
    for i, (txt, c) in enumerate(labels):
        ax.text(0.051, 0.901 - 0.06 * i, txt, color=c, transform=ax.transAxes,
                fontsize=16, va='baseline', ha='left', zorder=1)

fig.savefig('out.png', dpi=100)
